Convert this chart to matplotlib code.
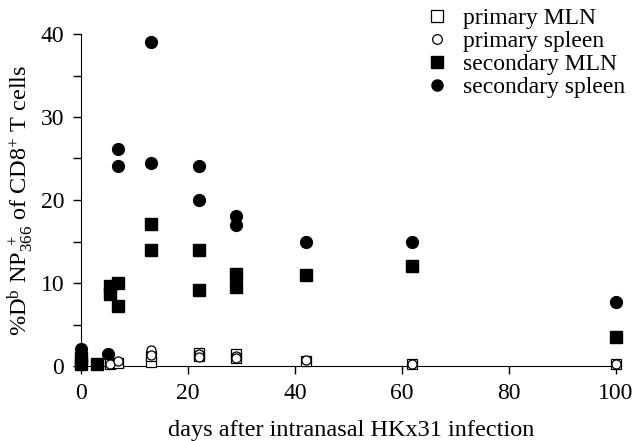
import matplotlib
matplotlib.use("Agg")
import matplotlib.pyplot as plt
from matplotlib.ticker import MultipleLocator
from matplotlib.lines import Line2D

plt.rcParams['font.family'] = ['Liberation Serif', 'DejaVu Serif']
plt.rcParams['mathtext.fontset'] = 'custom'
plt.rcParams['mathtext.rm'] = 'Liberation Serif'
plt.rcParams['mathtext.it'] = 'Liberation Serif:italic'

# primary MLN (open squares)
pm_x = [5.5, 7, 13, 13, 22, 22, 29, 29, 42, 62, 100]
pm_y = [0.2, 0.4, 0.5, 1.2, 1.6, 1.2, 1.4, 1.0, 0.6, 0.3, 0.3]
# primary spleen (open circles)
ps_x = [5.5, 7, 13, 13, 22, 22, 29, 29, 42, 62, 100]
ps_y = [0.3, 0.6, 1.9, 1.3, 1.4, 1.1, 1.2, 1.0, 0.7, 0.3, 0.2]
# secondary MLN (filled squares)
sm_x = [0, 0, 3, 5.5, 5.5, 7, 7, 13, 13, 22, 22, 29, 29, 42, 62, 100]
sm_y = [1.0, 0.3, 0.2, 9.6, 8.7, 10.0, 7.2, 17.1, 14.0, 14.0, 9.1, 11.1, 9.5, 11.0, 12.0, 3.5]
# secondary spleen (filled circles)
ss_x = [0, 5, 7, 7, 13, 13, 22, 22, 29, 29, 42, 62, 100]
ss_y = [2.0, 1.5, 26.1, 24.1, 39.0, 24.5, 24.1, 20.0, 18.1, 17.0, 15.0, 15.0, 7.7]

x_ticks = [0, 20, 40, 60, 80, 100]
y_ticks = [0, 10, 20, 30, 40]
labels = ['primary MLN', 'primary spleen', 'secondary MLN', 'secondary spleen']

fig = plt.figure(figsize=(6.32, 4.41), dpi=100)
ax = fig.add_axes([81/632, 75/441, 540/632, 332/441])

ax.plot(sm_x, sm_y, 's', color='black', markersize=8, clip_on=False, zorder=3)
ax.plot(ss_x, ss_y, 'o', color='black', markersize=8.5, clip_on=False, zorder=3)
ax.plot(pm_x, pm_y, 's', mfc='white', mec='black', mew=0.9, markersize=7, clip_on=False, zorder=4)
ax.plot(ps_x, ps_y, 'o', mfc='white', mec='black', mew=0.9, markersize=6.5, clip_on=False, zorder=5)

ax.set_xlim(0, 101)
ax.set_ylim(0, 40)
ax.set_xticks(x_ticks)
ax.set_yticks(y_ticks)
ax.yaxis.set_minor_locator(MultipleLocator(5))
ax.spines['top'].set_visible(False)
ax.spines['right'].set_visible(False)
ax.tick_params(axis='both', which='major', direction='out', length=6, width=1, labelsize=17)
ax.tick_params(axis='x', which='major', pad=6)
ax.tick_params(axis='y', which='major', pad=6)
ax.tick_params(axis='y', which='minor', direction='out', length=6, width=1)

ax.set_xlabel('days after intranasal HKx31 infection', fontsize=17.5, labelpad=12)
ax.set_ylabel(r'%D$^{\mathrm{b}}$ NP$_{366}^{\ +}$ of CD8$^{+}$ T cells', fontsize=17.5, labelpad=4)

handles = [
    Line2D([], [], ls='none', marker='s', mfc='white', mec='black', mew=0.9, markersize=9),
    Line2D([], [], ls='none', marker='o', mfc='white', mec='black', mew=0.9, markersize=7),
    Line2D([], [], ls='none', marker='s', color='black', markersize=8),
    Line2D([], [], ls='none', marker='o', color='black', markersize=8),
]
fig.legend(handles, labels, loc='upper left', bbox_to_anchor=(419/632, 1.0 - 4/441),
           frameon=False, fontsize=17, handletextpad=0.5, labelspacing=0.06,
           handlelength=1.2, borderaxespad=0.0, borderpad=0.15)

fig.savefig('out.png', dpi=100)
